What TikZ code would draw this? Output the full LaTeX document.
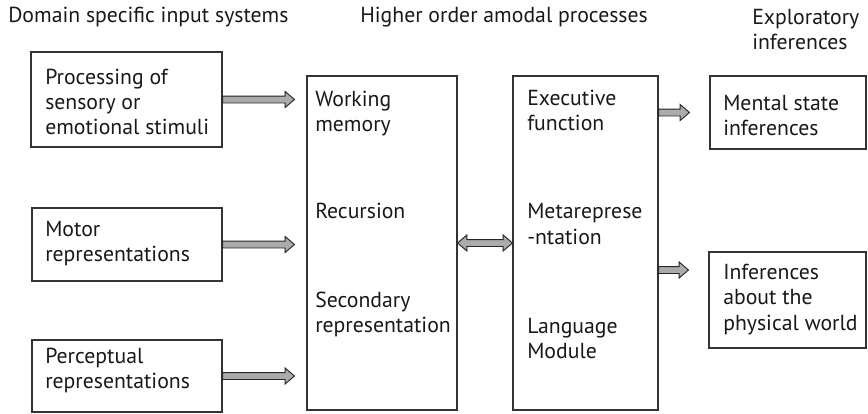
\documentclass[tikz,border=0pt]{standalone}
\usepackage{fontspec}
\setmainfont{PT Sans}
\usetikzlibrary{calc}
\tikzset{
  box/.style={draw=black!80, line width=0.8pt, inner sep=0pt, fill=white},
  txt/.style={anchor=west, align=left, inner sep=0pt, font=\fontsize{16.3}{18.9}\selectfont, text=black!90},
  fatarrow/.style={draw=black!85, line width=0.7pt, fill=black!33, line join=miter},
}
\newcommand\fatarrow[2]{%
  \path[fatarrow] let \p1=#1, \p2=#2 in
  (\x1,\y1+2.6pt) -- (\x2-7pt,\y1+2.6pt) -- (\x2-7pt,\y1+6pt) -- (\x2,\y1)
  -- (\x2-7pt,\y1-6pt) -- (\x2-7pt,\y1-2.6pt) -- (\x1,\y1-2.6pt) -- cycle;}
\newcommand\fatdarrow[2]{%
  \path[fatarrow] let \p1=#1, \p2=#2 in
  (\x1,\y1) -- (\x1+7pt,\y1+6pt) -- (\x1+7pt,\y1+2.6pt) -- (\x2-7pt,\y1+2.6pt) -- (\x2-7pt,\y1+6pt) -- (\x2,\y1)
  -- (\x2-7pt,\y1-6pt) -- (\x2-7pt,\y1-2.6pt) -- (\x1+7pt,\y1-2.6pt) -- (\x1+7pt,\y1-6pt) -- cycle;}
\begin{document}
\begin{tikzpicture}[x=0.75pt,y=-0.75pt]
\useasboundingbox (0,0) rectangle (868,414);
% headers
\node[txt] (h1) at (8,17) {Domain specific input systems};
\node[txt] (h2) at (360,17) {Higher order amodal processes};
\node[txt] (h3) at (752,29.5) {Exploratory\\inferences};
% left boxes
\node[box, minimum width=143.25pt, minimum height=71.25pt] (b1) at (126.5,99.5) {};
\node[box, minimum width=142.5pt, minimum height=54.75pt] (b2) at (127,244.5) {};
\node[box, minimum width=142.5pt, minimum height=54pt] (b3) at (127,376) {};
\node[txt] (t1) at (45,102) {Processing of\\sensory or\\emotional stimuli};
\node[txt] (t2) at (45,243.5) {Motor\\representations};
\node[txt] (t3) at (45,370.5) {Perceptual\\representations};
% middle boxes
\node[box, minimum width=112.5pt, minimum height=250.5pt] (A) at (382,243) {};
\node[box, minimum width=108.75pt, minimum height=250.5pt] (B) at (585.5,243) {};
\node[txt] (a1) at (315,113.5) {Working\\memory};
\node[txt] (a2) at (315,211) {Recursion};
\node[txt] (a3) at (315,314.5) {Secondary\\representation};
\node[txt] (e1) at (527,110.5) {Executive\\function};
\node[txt] (e2) at (527,224) {Metareprese\\-ntation};
\node[txt] (e3) at (527,338.5) {Language\\Module};
% right boxes
\node[box, minimum width=117pt, minimum height=54.75pt] (R1) at (788,112.5) {};
\node[box, minimum width=117.75pt, minimum height=72pt] (R2) at (787.5,300) {};
\node[txt] (r1) at (723,115.5) {Mental state\\inferences};
\node[txt] (r2) at (723,299.5) {Inferences\\about the\\physical world};
% arrows
\coordinate (y270) at (0,270);
\fatarrow{(b1.east)}{([xshift=-9pt]A.west |- b1.east)}
\fatarrow{(b2.east)}{([xshift=-9pt]A.west |- b2.east)}
\fatarrow{(b3.east)}{([xshift=-9pt]A.west |- b3.east)}
\fatdarrow{(A.east)}{(B.west)}
\fatarrow{(B.east |- R1.west)}{([xshift=-15pt]R1.west)}
\fatarrow{(B.east |- y270)}{([xshift=-15pt]R2.west |- y270)}
\end{tikzpicture}
\end{document}
